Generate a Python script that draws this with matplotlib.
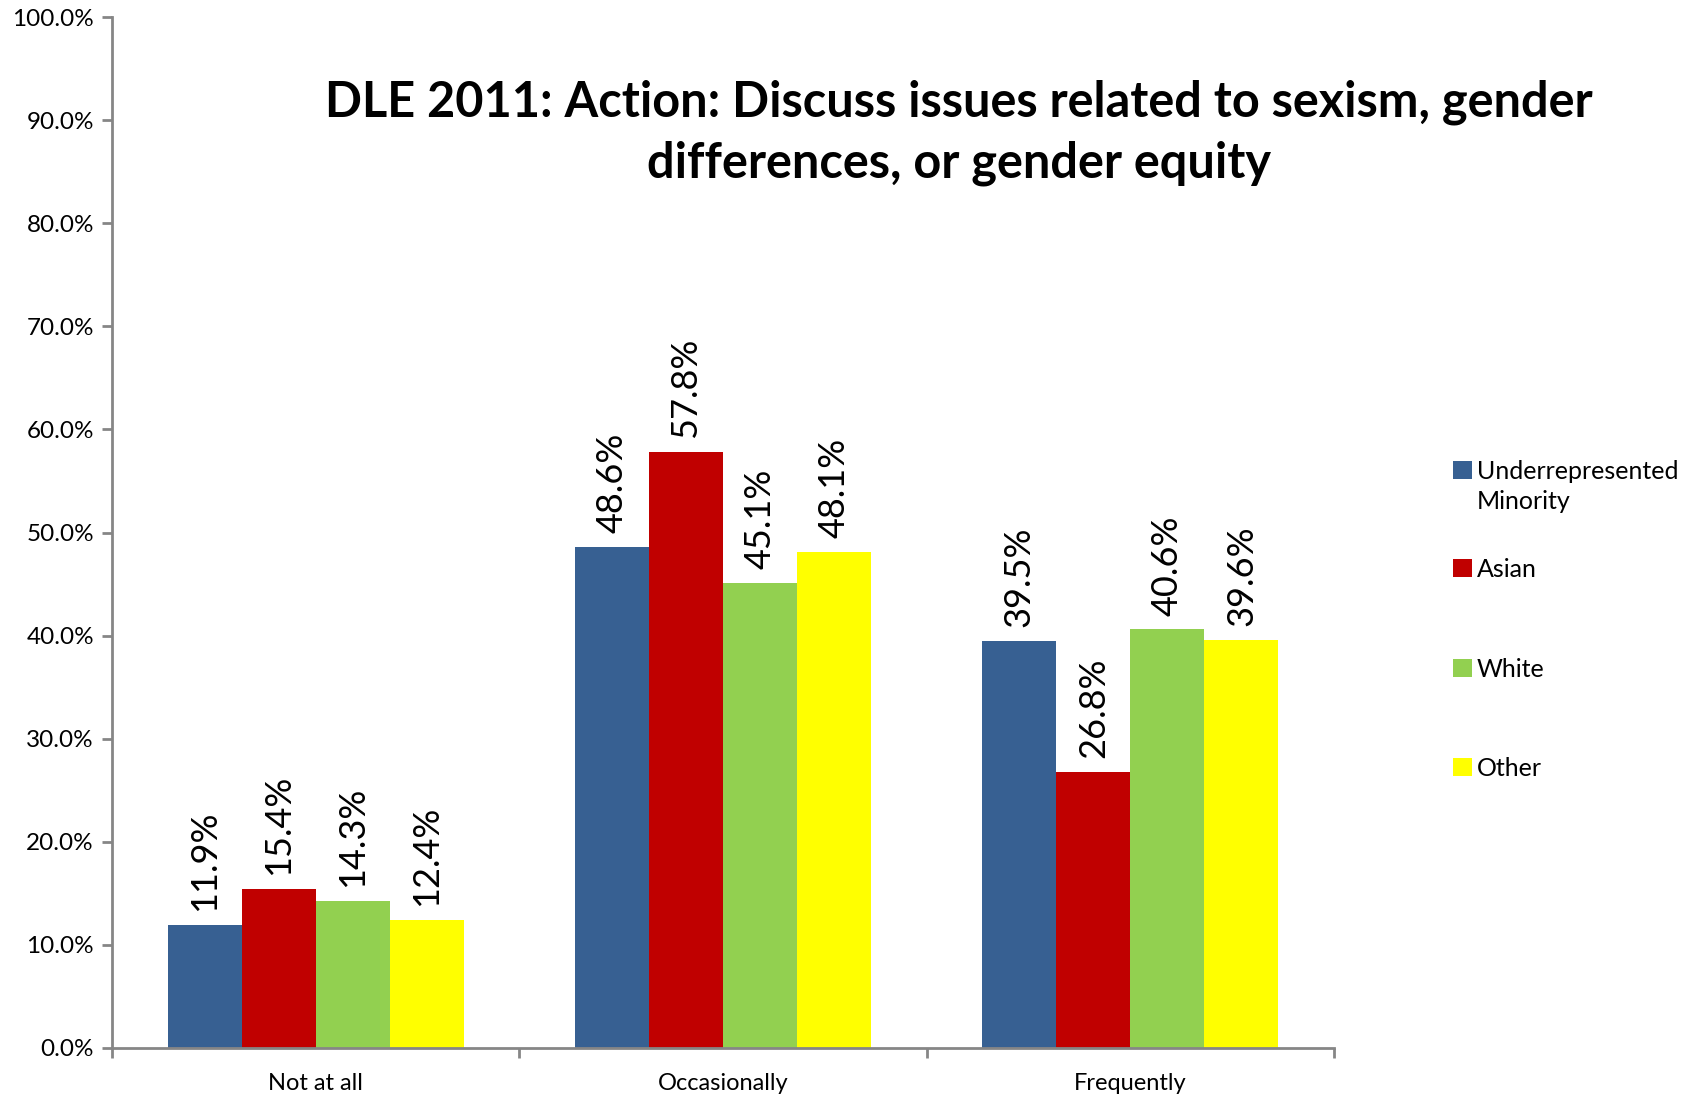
import matplotlib
matplotlib.use("Agg")
import matplotlib.pyplot as plt
import numpy as np
from matplotlib.patches import Rectangle

plt.rcParams['font.family'] = ['Lato', 'DejaVu Sans']

categories = ["Not at all", "Occasionally", "Frequently"]
series_names = ["Underrepresented\nMinority", "Asian", "White", "Other"]
values = {
    "Underrepresented\nMinority": [11.9, 48.6, 39.5],
    "Asian": [15.4, 57.8, 26.8],
    "White": [14.3, 45.1, 40.6],
    "Other": [12.4, 48.1, 39.6],
}
colors = ["#376092", "#C00000", "#92D050", "#FFFF00"]
title = "DLE 2011: Action: Discuss issues related to sexism, gender\ndifferences, or gender equity"

W, H = 1690, 1097
fig = plt.figure(figsize=(W / 100, H / 100), dpi=100)
ax = fig.add_axes([112 / W, 1 - 1048 / H, (1334 - 112) / W, (1048 - 17) / H])

n = len(series_names)
bw = 1 / 5.5
x = np.arange(len(categories))
for i, name in enumerate(series_names):
    xs = x + (i - (n - 1) / 2) * bw
    ax.bar(xs, values[name], width=bw, color=colors[i], edgecolor='none', zorder=2)
    for xi, v in zip(xs, values[name]):
        ax.annotate(f"{v:.1f}%", (xi, v), xytext=(0, 10), textcoords='offset points',
                    rotation=90, ha='center', va='bottom', fontsize=26, color='black')

ax.set_xlim(-0.5, len(categories) - 0.5)
ax.set_ylim(0, 100)
ax.set_yticks(np.arange(0, 101, 10))
ax.set_yticklabels([f"{t:.1f}%" for t in np.arange(0, 101, 10)], fontsize=17.5)
ax.set_xticks(x)
ax.set_xticklabels(categories, fontsize=17)
ax.set_xticks(np.arange(-0.5, len(categories), 1), minor=True)
ax.tick_params(axis='x', which='major', length=0, pad=18)
ax.tick_params(axis='x', which='minor', length=7, width=2, color='#868686', direction='out')
ax.tick_params(axis='y', length=7, width=2, color='#868686', direction='out', pad=6)
for s in ['top', 'right']:
    ax.spines[s].set_visible(False)
for s in ['left', 'bottom']:
    ax.spines[s].set_color('#868686')
    ax.spines[s].set_linewidth(2)

fig.text(959 / W, 1 - 133 / H, title, ha='center', va='center', fontsize=35,
         fontweight='bold', linespacing=1.42)

# legend
legend_rows = [470, 568, 668, 767]
for i, name in enumerate(series_names):
    yc = legend_rows[i]
    fig.patches.append(Rectangle((1453 / W, 1 - (yc + 9) / H), 19 / W, 18 / H,
                                 transform=fig.transFigure, facecolor=colors[i],
                                 edgecolor='none'))
    fig.text(1477 / W, 1 - (yc - 10) / H, name, ha='left', va='top', fontsize=18,
             linespacing=1.35)

fig.savefig("out.png", dpi=100)
